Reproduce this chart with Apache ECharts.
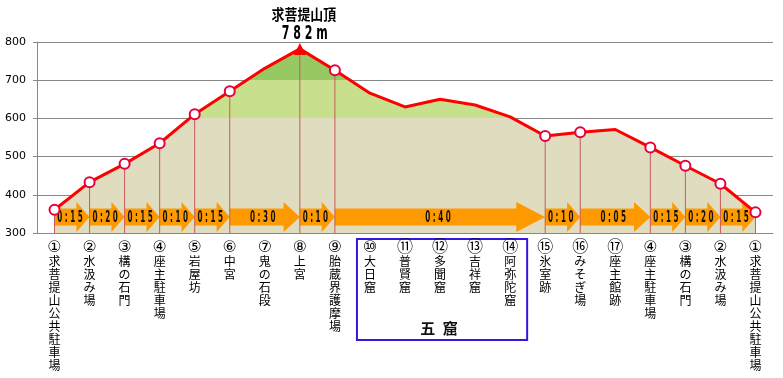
<!DOCTYPE html>
<html>
<head>
<meta charset="utf-8">
<script src="https://cdn.jsdelivr.net/npm/echarts@6/dist/echarts.min.js"></script>
<style>
  html, body { margin: 0; padding: 0; background: #fff; }
  #chart { width: 783px; height: 378px; }
</style>
</head>
<body>
<div id="chart"></div>
<script>
// stops along the trail (x categories)
const places = [
  "①求菩提山公共駐車場", "②水汲み場", "③構の石門", "④座主駐車場", "⑤岩屋坊",
  "⑥中宮", "⑦鬼の石段", "⑧上宮", "⑨胎蔵界護摩場", "⑩大日窟",
  "⑪普賢窟", "⑫多聞窟", "⑬吉祥窟", "⑭阿弥陀窟", "⑮氷室跡",
  "⑯みそぎ場", "⑰座主館跡", "④座主駐車場", "③構の石門", "②水汲み場",
  "①求菩提山公共駐車場"
];
// elevation in metres
const elevation = [361, 433, 481, 535, 611, 671, 731, 782, 726, 666, 630,
                   650, 635, 604, 554, 564, 571, 524, 476, 429, 354];
// points with a marker and a drop line
const marked = [0, 1, 2, 3, 4, 5, 7, 8, 14, 15, 17, 18, 19, 20];
const peakIndex = 7;

// walking times between stops
const legFrom = [0, 1, 2, 3, 4, 5, 7, 8, 14, 15, 17, 18, 19];
const legTo   = [1, 2, 3, 4, 5, 7, 8, 14, 15, 17, 18, 19, 20];
const legTime = ["0:15", "0:20", "0:15", "0:10", "0:15", "0:30", "0:10",
                 "0:40", "0:10", "0:05", "0:15", "0:20", "0:15"];

const yMin = 300, yMax = 800, yStep = 100;
const bandLevels = [600, 700];

const summitName = "求菩提山頂";
const summitHeight = "782m";
const groupFirst = 9, groupLast = 13;
const groupName = "五窟";

const chart = echarts.init(document.getElementById("chart"));

// colour bands under the profile
const highest = Math.max(...elevation);
const frac = v => (highest - v) / (highest - yMin);
const areaColor = new echarts.graphic.LinearGradient(0, 0, 0, 1, [
  { offset: 0, color: "#96c864" },
  { offset: frac(bandLevels[1]), color: "#96c864" },
  { offset: frac(bandLevels[1]), color: "#c8e08e" },
  { offset: frac(bandLevels[0]), color: "#c8e08e" },
  { offset: frac(bandLevels[0]), color: "#dfdcc0" },
  { offset: 1, color: "#dfdcc0" }
]);

const spaced = s => s.split("").join(" ");

// vertical label: circled number on top, then one character per line
const verticalLabel = s => {
  const chars = Array.from(s);
  return "{num|" + chars[0] + "}\n" + chars.slice(1).join("\n");
};

const option = {
  animation: false,
  grid: { left: 37, right: 10, top: 42, bottom: 145, outerBoundsMode: "none" },
  xAxis: {
    type: "category",
    data: places,
    boundaryGap: true,
    axisLine: { lineStyle: { color: "#888" } },
    axisTick: { alignWithLabel: true, length: 3, lineStyle: { color: "#e6a0a8" } },
    axisLabel: {
      interval: 0,
      margin: 8,
      fontSize: 12,
      lineHeight: 13,
      color: "#000",
      fontFamily: '"Noto Sans CJK JP"',
      formatter: verticalLabel,
      rich: {
        num: {
          fontSize: 16,
          lineHeight: 14,
          color: "#000",
          fontFamily: '"DejaVu Sans", "Noto Sans CJK JP"'
        }
      }
    }
  },
  yAxis: {
    type: "value",
    min: yMin,
    max: yMax,
    interval: yStep,
    axisLine: { show: true, lineStyle: { color: "#888" } },
    axisTick: { show: true, length: 4, lineStyle: { color: "#888" } },
    splitLine: { lineStyle: { color: "#888" } },
    axisLabel: { margin: 11, fontSize: 11, color: "#000", fontFamily: "DejaVu Sans" }
  },
  series: [
    {
      // filled profile
      type: "line",
      z: 1,
      silent: true,
      data: elevation,
      symbol: "none",
      lineStyle: { width: 0 },
      areaStyle: { color: areaColor, opacity: 1 }
    },
    {
      // time arrows
      type: "custom",
      z: 2,
      silent: true,
      data: legFrom.map((f, k) => [f, legTo[k]]),
      encode: { x: [0, 1] },
      renderItem: (params, api) => {
        const k = params.dataIndex;
        const a = api.coord([legFrom[k], yMin]);
        const b = api.coord([legTo[k], yMin]);
        const x0 = a[0], x1 = b[0], base = a[1];
        const head = 10 + (x1 - x0) * 0.09;
        const yc = base - 16;
        return {
          type: "group",
          children: [
            {
              type: "polygon",
              shape: {
                points: [
                  [x0, base - 24.5], [x1 - head, base - 24.5], [x1 - head, base - 31],
                  [x1, yc], [x1 - head, base - 1], [x1 - head, base - 7.5], [x0, base - 7.5]
                ]
              },
              style: { fill: "#ff9900" }
            },
            {
              type: "text",
              x: (x0 + x1) / 2 - 2,
              y: yc + 1,
              scaleX: 0.45,
              style: {
                text: spaced(legTime[k]),
                font: 'bold 16px "DejaVu Sans"',
                fill: "#111",
                align: "center",
                verticalAlign: "middle"
              }
            }
          ]
        };
      }
    },
    {
      // drop lines
      type: "custom",
      z: 3,
      silent: true,
      data: marked.map(i => [i, elevation[i]]),
      encode: { x: 0, y: 1 },
      renderItem: (params, api) => {
        const p0 = api.coord([api.value(0), yMin]);
        const p1 = api.coord([api.value(0), api.value(1)]);
        return {
          type: "line",
          shape: { x1: p0[0], y1: p0[1], x2: p1[0], y2: p1[1] },
          style: { stroke: "#c85a5a", lineWidth: 1 }
        };
      }
    },
    {
      // profile line
      type: "line",
      z: 4,
      showAllSymbol: true,
      data: elevation.map((v, i) => {
        if (i === peakIndex) {
          return { value: v, symbol: "triangle", symbolSize: 12,
                   itemStyle: { color: "#ff0000", borderColor: "#ff0000", borderWidth: 0 } };
        }
        return { value: v, symbol: marked.includes(i) ? "circle" : "none", symbolSize: 10 };
      }),
      lineStyle: { color: "#ff0000", width: 3 },
      itemStyle: { color: "#fff", borderColor: "#e8003c", borderWidth: 2 }
    }
  ]
};

chart.setOption(option);

// annotations placed from the axes
const peakPx = chart.convertToPixel({ gridIndex: 0 }, [peakIndex, yMax]);
const g0 = chart.convertToPixel({ gridIndex: 0 }, [groupFirst, yMin]);
const g1 = chart.convertToPixel({ gridIndex: 0 }, [groupLast, yMin]);
const boxLeft = g0[0] - 13, boxRight = g1[0] + 17;

chart.setOption({
  graphic: [
    {
      type: "text",
      x: peakPx[0] + 4,
      y: 14,
      scaleX: 0.86,
      style: {
        text: summitName,
        font: 'bold 15px "Noto Sans CJK JP"',
        fill: "#000",
        align: "center",
        verticalAlign: "middle"
      }
    },
    {
      type: "text",
      x: peakPx[0] + 5,
      y: 34,
      scaleX: 0.58,
      style: {
        text: spaced(summitHeight),
        font: 'bold 19px "DejaVu Sans"',
        fill: "#000",
        align: "center",
        verticalAlign: "middle"
      }
    },
    {
      type: "rect",
      shape: { x: boxLeft, y: g0[1] + 6, width: boxRight - boxLeft, height: 101 },
      style: { fill: null, stroke: "#3318e0", lineWidth: 2 }
    },
    {
      type: "text",
      x: (boxLeft + boxRight) / 2 - 3,
      y: g0[1] + 95,
      style: {
        text: groupName.split("").join("\u2002"),
        font: 'bold 15px "Noto Sans CJK JP"',
        fill: "#111",
        align: "center",
        verticalAlign: "middle"
      }
    }
  ]
});
</script>
</body>
</html>
